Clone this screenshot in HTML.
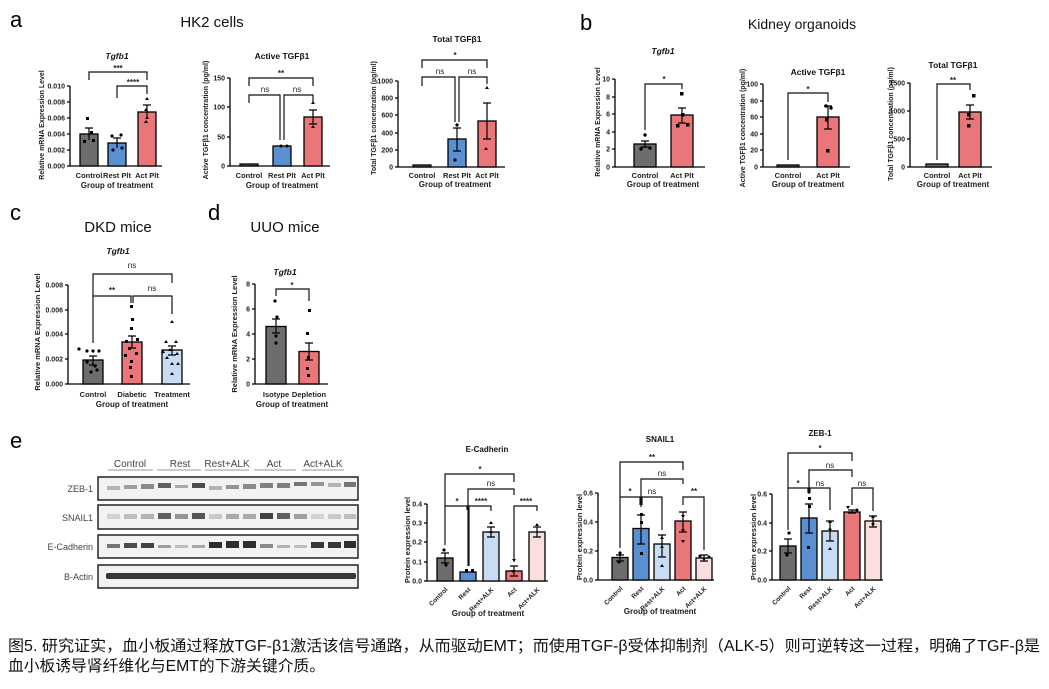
<!DOCTYPE html>
<html><head><meta charset="utf-8"><style>
body{margin:0;background:#fff;width:1049px;height:689px;overflow:hidden}
svg{display:block;font-family:"Liberation Sans",Arial,sans-serif}
.ax{stroke:#000;stroke-width:1.3;fill:none}
.br{stroke:#111;stroke-width:1.2;fill:none}
.t{font-size:7px;font-weight:bold;fill:#222}
.tk{font-size:7px;font-weight:bold;fill:#222;text-anchor:end}
.xl{font-size:7.5px;font-weight:bold;fill:#222;text-anchor:middle}
.ti{font-size:8.5px;font-weight:bold;fill:#111;text-anchor:middle}
.yl{font-size:7.5px;font-weight:bold;fill:#222;text-anchor:middle}
.pl{font-size:22px;fill:#000}
.pt{font-size:15px;fill:#111;text-anchor:middle}
.s{font-size:8px;fill:#222;text-anchor:middle;font-weight:bold}
.g{fill:#6d6d6d;stroke:#000;stroke-width:1.3}
.b{fill:#5a8fd2;stroke:#000;stroke-width:1.3}
.r{fill:#ea7679;stroke:#000;stroke-width:1.3}
.lb{fill:#c8dcf3;stroke:#000;stroke-width:1.3}
.lp{fill:#fbdede;stroke:#000;stroke-width:1.3}
.e{stroke:#000;stroke-width:1.2;fill:none}
.bl{font-size:9px;fill:#444;text-anchor:end}
.gl{font-size:10px;fill:#444;text-anchor:middle}
</style></head><body>
<svg width="1049" height="689" viewBox="0 0 1049 689">
<text class="pl" x="10" y="27">a</text>
<text class="pt" x="212" y="27">HK2 cells</text>
<text class="pl" x="580" y="30">b</text>
<text class="pt" x="802" y="29" style="font-size:14px">Kidney organoids</text>
<text class="pl" x="10" y="220">c</text>
<text class="pt" x="118" y="232">DKD mice</text>
<text class="pl" x="208" y="220">d</text>
<text class="pt" x="285" y="232">UUO mice</text>
<text class="pl" x="10" y="448">e</text>

<!-- a1 -->
<text class="ti" x="117" y="59" font-style="italic">Tgfb1</text>
<path class="ax" d="M70 86V166H162M67 86H70M67 102H70M67 118H70M67 134H70M67 150H70M67 166H70"/>
<text class="tk" x="65" y="88.5">0.010</text><text class="tk" x="65" y="104.5">0.008</text><text class="tk" x="65" y="120.5">0.006</text><text class="tk" x="65" y="136.5">0.004</text><text class="tk" x="65" y="152.5">0.002</text><text class="tk" x="65" y="168.5">0.000</text>
<text class="yl" transform="translate(44,125) rotate(-90)" style="font-size:7px">Relative mRNA Expression Level</text>
<rect class="g" x="80" y="134" width="18" height="32"/><rect class="b" x="108" y="143" width="18" height="23"/><rect class="r" x="138" y="112" width="18" height="54"/>
<path class="e" d="M89 128V140M85 128H93M117 138V148M113 138H121M147 105V119M143 105H151"/>
<g fill="#000"><rect x="86" y="117" width="3" height="3"/><rect x="83" y="140" width="3" height="3"/><rect x="92" y="139" width="3" height="3"/><rect x="90" y="131" width="3" height="3"/><circle cx="112" cy="136" r="1.6"/><circle cx="121" cy="135" r="1.6"/><circle cx="113" cy="150" r="1.6"/><circle cx="122" cy="148" r="1.6"/><path d="M147 97l2 3h-4z M146 108l2 3h-4z M147 116l2 3h-4z M146 120l2 3h-4z"/></g>
<text class="xl" x="89" y="178">Control</text><text class="xl" x="117" y="178">Rest Plt</text><text class="xl" x="147" y="178">Act Plt</text>
<text class="xl" x="117" y="188" style="font-size:8px">Group of treatment</text>
<path class="br" d="M89 80V72H147V80M117 98V86H147V94"/>
<text class="s" x="118" y="71">***</text><text class="s" x="133" y="85">****</text>

<!-- a2 -->
<text class="ti" x="282" y="59">Active TGFβ1</text>
<path class="ax" d="M230 78V166H330M227 78H230M227 107H230M227 137H230M227 166H230"/>
<text class="tk" x="225" y="80.5">150</text><text class="tk" x="225" y="109.5">100</text><text class="tk" x="225" y="139.5">50</text><text class="tk" x="225" y="168.5">0</text>
<text class="yl" transform="translate(208,120) rotate(-90)" style="font-size:7px">Active TGFβ1 concentration (pg/ml)</text>
<rect class="g" x="240" y="164" width="18" height="2"/><rect class="b" x="273" y="146" width="18" height="20"/><rect class="r" x="304" y="117" width="18" height="49"/>
<path class="e" d="M309 110H317M313 110V124M309 124H317"/>
<g fill="#000"><path d="M313 101l2 3h-4zM313 125l2 3h-4z"/><circle cx="281" cy="146" r="1.5"/><circle cx="287" cy="146" r="1.5"/></g>
<text class="xl" x="249" y="178">Control</text><text class="xl" x="282" y="178">Rest Plt</text><text class="xl" x="313" y="178">Act Plt</text>
<text class="xl" x="282" y="188" style="font-size:8px">Group of treatment</text>
<path class="br" d="M249 86V78H313V86M249 103V95H280V140M284 140V95H313V103"/>
<text class="s" x="281" y="76">**</text><text class="s" x="265" y="92" style="font-weight:normal">ns</text><text class="s" x="297" y="92" style="font-weight:normal">ns</text>

<!-- a3 -->
<text class="ti" x="457" y="42">Total TGFβ1</text>
<path class="ax" d="M398 81V167H505M395 81H398M395 98H398M395 115H398M395 133H398M395 150H398M395 167H398"/>
<text class="tk" x="393" y="83.5">1000</text><text class="tk" x="393" y="100.5">800</text><text class="tk" x="393" y="117.5">600</text><text class="tk" x="393" y="135.5">400</text><text class="tk" x="393" y="152.5">200</text><text class="tk" x="393" y="169.5">0</text>
<text class="yl" transform="translate(376,118) rotate(-90)" style="font-size:7px">Total TGFβ1 concentration (pg/ml)</text>
<rect class="g" x="413" y="165" width="18" height="2"/><rect class="b" x="448" y="139" width="18" height="28"/><rect class="r" x="478" y="121" width="18" height="46"/>
<path class="e" d="M453 128H461M457 128V151M453 151H461M483 103H491M487 103V139M483 139H491"/>
<g fill="#000"><circle cx="457" cy="125" r="1.6"/><circle cx="455" cy="160" r="1.6"/><path d="M487 86l2 3h-4zM486 147l2 3h-4z"/></g>
<text class="xl" x="422" y="178">Control</text><text class="xl" x="457" y="178">Rest Plt</text><text class="xl" x="487" y="178">Act Plt</text>
<text class="xl" x="455" y="187" style="font-size:8px">Group of treatment</text>
<path class="br" d="M422 68V60H487V68M422 86V77H455V122M459 122V77H487V84"/>
<text class="s" x="455" y="58">*</text><text class="s" x="440" y="74" style="font-weight:normal">ns</text><text class="s" x="472" y="74" style="font-weight:normal">ns</text>

<!-- b1 -->
<text class="ti" x="663" y="54" font-style="italic">Tgfb1</text>
<path class="ax" d="M615 79V167H705M612 79H615M612 97H615M612 114H615M612 132H615M612 149H615M612 167H615"/>
<text class="tk" x="610" y="81.5">10</text><text class="tk" x="610" y="99.5">8</text><text class="tk" x="610" y="116.5">6</text><text class="tk" x="610" y="134.5">4</text><text class="tk" x="610" y="151.5">2</text><text class="tk" x="610" y="169.5">0</text>
<text class="yl" transform="translate(600,122) rotate(-90)" style="font-size:7px">Relative mRNA Expression Level</text>
<rect class="g" x="634" y="144" width="22" height="23"/><rect class="r" x="671" y="115" width="22" height="52"/>
<path class="e" d="M641 141H649M645 141V147M641 147H649M678 108H686M682 108V123M678 123H686"/>
<g fill="#000"><circle cx="645" cy="135" r="1.7"/><circle cx="641" cy="149" r="1.7"/><circle cx="650" cy="148" r="1.7"/><rect x="680" y="92" width="3.5" height="3.5"/><rect x="681" y="113" width="3.5" height="3.5"/><rect x="676" y="124" width="3.5" height="3.5"/><rect x="686" y="123" width="3.5" height="3.5"/></g>
<text class="xl" x="645" y="178">Control</text><text class="xl" x="682" y="178">Act Plt</text>
<text class="xl" x="663" y="187" style="font-size:8px">Group of treatment</text>
<path class="br" d="M645 130V84H682V89"/><text class="s" x="664" y="82">*</text>

<!-- b2 -->
<text class="ti" x="818" y="75">Active TGFβ1</text>
<path class="ax" d="M763 84V167H850M760 84H763M760 101H763M760 117H763M760 134H763M760 150H763M760 167H763"/>
<text class="tk" x="758" y="86.5">100</text><text class="tk" x="758" y="103.5">80</text><text class="tk" x="758" y="119.5">60</text><text class="tk" x="758" y="136.5">40</text><text class="tk" x="758" y="152.5">20</text><text class="tk" x="758" y="169.5">0</text>
<text class="yl" transform="translate(745,128) rotate(-90)" style="font-size:7px">Active TGFβ1 concentration (pg/ml)</text>
<rect class="g" x="777" y="165" width="22" height="2"/><rect class="r" x="817" y="117" width="22" height="50"/>
<path class="e" d="M824 106H832M828 106V129M824 129H832"/>
<g fill="#000"><circle cx="826" cy="106" r="1.7"/><circle cx="831" cy="108" r="1.7"/><rect x="825" y="118" width="3.5" height="3.5"/><rect x="826" y="149" width="3.5" height="3.5"/></g>
<text class="xl" x="788" y="178">Control</text><text class="xl" x="828" y="178">Act Plt</text>
<text class="xl" x="808" y="187" style="font-size:8px">Group of treatment</text>
<path class="br" d="M788 160V93H828V102"/><text class="s" x="808" y="92">*</text>

<!-- b3 -->
<text class="ti" x="953" y="68">Total TGFβ1</text>
<path class="ax" d="M910 83V167H992M907 83H910M907 111H910M907 139H910M907 167H910"/>
<text class="tk" x="905" y="85.5">1500</text><text class="tk" x="905" y="113.5">1000</text><text class="tk" x="905" y="141.5">500</text><text class="tk" x="905" y="169.5">0</text>
<text class="yl" transform="translate(893,124) rotate(-90)" style="font-size:7px">Total TGFβ1 concentration (pg/ml)</text>
<rect class="g" x="926" y="164" width="22" height="3"/><rect class="r" x="959" y="112" width="22" height="55"/>
<path class="e" d="M966 105H974M970 105V119M966 119H974"/>
<g fill="#000"><rect x="972" y="94" width="3.5" height="3.5"/><rect x="967" y="113" width="3.5" height="3.5"/><rect x="967" y="124" width="3.5" height="3.5"/></g>
<text class="xl" x="937" y="178">Control</text><text class="xl" x="970" y="178">Act Plt</text>
<text class="xl" x="953" y="187" style="font-size:8px">Group of treatment</text>
<path class="br" d="M937 160V84H970V90"/><text class="s" x="953" y="83">**</text>

<!-- c -->
<text class="ti" x="118" y="254" font-style="italic">Tgfb1</text>
<path class="ax" d="M68 285V384H190M65 285H68M65 310H68M65 334H68M65 359H68M65 384H68"/>
<text class="tk" x="63" y="287.5">0.008</text><text class="tk" x="63" y="312.5">0.006</text><text class="tk" x="63" y="336.5">0.004</text><text class="tk" x="63" y="361.5">0.002</text><text class="tk" x="63" y="386.5">0.000</text>
<text class="yl" transform="translate(40,332) rotate(-90)">Relative mRNA Expression Level</text>
<rect class="g" x="83" y="360" width="20" height="24"/><rect class="r" x="122" y="342" width="20" height="42"/><rect class="lb" x="162" y="350" width="20" height="34"/>
<path class="e" d="M89 356H97M93 356V365M89 365H97M128 336H136M132 336V348M128 348H136M168 346H176M172 346V355M168 355H176"/>
<g fill="#000"><circle cx="79" cy="349" r="1.6"/><circle cx="87" cy="351" r="1.6"/><circle cx="93" cy="351" r="1.6"/><circle cx="99" cy="351" r="1.6"/><circle cx="87" cy="362" r="1.6"/><circle cx="95" cy="366" r="1.6"/><circle cx="91" cy="372" r="1.6"/><circle cx="97" cy="370" r="1.6"/>
<rect x="130" y="305" width="3" height="3"/><rect x="131" y="318" width="3" height="3"/><rect x="130" y="327" width="3" height="3"/><rect x="125" y="340" width="3" height="3"/><rect x="136" y="338" width="3" height="3"/><rect x="128" y="347" width="3" height="3"/><rect x="135" y="352" width="3" height="3"/><rect x="130" y="360" width="3" height="3"/><rect x="129" y="366" width="3" height="3"/><rect x="130" y="375" width="3" height="3"/><rect x="124" y="354" width="3" height="3"/>
<path d="M172 320l2 3h-4zM166 340l2 3h-4zM176 340l2 3h-4zM170 348l2 3h-4zM177 352l2 3h-4zM167 356l2 3h-4zM172 362l2 3h-4zM178 362l2 3h-4zM172 372l2 3h-4zM163 350l2 3h-4z"/></g>
<text class="xl" x="93" y="397">Control</text><text class="xl" x="132" y="397">Diabetic</text><text class="xl" x="172" y="397">Treatment</text>
<text class="xl" x="132" y="407" style="font-size:8px">Group of treatment</text>
<path class="br" d="M93 343V274H172V283M93 343V296H131V303M133 303V296H172V314"/>
<text class="s" x="132" y="268" style="font-weight:normal">ns</text><text class="s" x="112" y="293">**</text><text class="s" x="152" y="291" style="font-weight:normal">ns</text>

<!-- d -->
<text class="ti" x="285" y="275" font-style="italic">Tgfb1</text>
<path class="ax" d="M255 284V384H328M252 284H255M252 309H255M252 334H255M252 359H255M252 384H255"/>
<text class="tk" x="250" y="286.5">8</text><text class="tk" x="250" y="311.5">6</text><text class="tk" x="250" y="336.5">4</text><text class="tk" x="250" y="361.5">2</text><text class="tk" x="250" y="386.5">0</text>
<text class="yl" transform="translate(237,334) rotate(-90)">Relative mRNA Expression Level</text>
<rect class="g" x="266" y="326.5" width="20" height="57.5"/><rect class="r" x="299" y="351.5" width="20" height="32.5"/>
<path class="e" d="M272 319H280M276 319V333M272 333H280M305 343H313M309 343V360M305 360H313"/>
<g fill="#000"><circle cx="275" cy="301" r="1.6"/><circle cx="277" cy="317" r="1.6"/><circle cx="276" cy="336" r="1.6"/><circle cx="276" cy="343" r="1.6"/><rect x="308" y="309" width="3" height="3"/><rect x="306" y="332" width="3" height="3"/><rect x="307" y="356" width="3" height="3"/><rect x="306" y="367" width="3" height="3"/><rect x="307" y="374" width="3" height="3"/></g>
<text class="xl" x="276" y="397">Isotype</text><text class="xl" x="309" y="397">Depletion</text>
<text class="xl" x="292" y="407" style="font-size:8px">Group of treatment</text>
<path class="br" d="M276 296V289H309V301"/><text class="s" x="292" y="288">*</text>

<!-- e blot -->
<g>
<text class="gl" x="130" y="467">Control</text><text class="gl" x="180" y="467">Rest</text><text class="gl" x="227" y="467">Rest+ALK</text><text class="gl" x="274" y="467">Act</text><text class="gl" x="323" y="467">Act+ALK</text>
<path d="M108 470H153M157 470H201M205 470H249M254 470H296M302 470H344" stroke="#999" stroke-width="1"/>
<text class="bl" x="93" y="492">ZEB-1</text><text class="bl" x="93" y="521">SNAIL1</text><text class="bl" x="93" y="550">E-Cadherin</text><text class="bl" x="93" y="580">B-Actin</text>
<rect x="98" y="477" width="260" height="23" fill="#f2f2f2" stroke="#222" stroke-width="1.5"/>
<rect x="98" y="505" width="260" height="24" fill="#f2f2f2" stroke="#222" stroke-width="1.5"/>
<rect x="98" y="535" width="260" height="23" fill="#f2f2f2" stroke="#222" stroke-width="1.5"/>
<rect x="98" y="565" width="260" height="23" fill="#f2f2f2" stroke="#222" stroke-width="1.5"/>
<g fill="#222">
<rect x="107" y="486" width="13" height="4" opacity=".3"/><rect x="124" y="485" width="13" height="4" opacity=".4"/><rect x="141" y="484" width="13" height="5" opacity=".5"/><rect x="158" y="483" width="13" height="5" opacity=".7"/><rect x="175" y="485" width="13" height="3" opacity=".35"/><rect x="192" y="483" width="13" height="5" opacity=".8"/><rect x="209" y="486" width="13" height="4" opacity=".3"/><rect x="226" y="485" width="13" height="4" opacity=".45"/><rect x="243" y="484" width="13" height="5" opacity=".5"/><rect x="260" y="483" width="13" height="5" opacity=".55"/><rect x="277" y="483" width="13" height="5" opacity=".55"/><rect x="294" y="482" width="13" height="4" opacity=".6"/><rect x="311" y="482" width="13" height="4" opacity=".45"/><rect x="328" y="483" width="13" height="4" opacity=".3"/><rect x="344" y="482" width="12" height="5" opacity=".6"/>
<rect x="107" y="514" width="13" height="5" opacity=".15"/><rect x="124" y="514" width="13" height="5" opacity=".25"/><rect x="141" y="514" width="13" height="5" opacity=".3"/><rect x="158" y="513" width="13" height="6" opacity=".7"/><rect x="175" y="514" width="13" height="5" opacity=".45"/><rect x="192" y="513" width="13" height="6" opacity=".75"/><rect x="209" y="514" width="13" height="5" opacity=".2"/><rect x="226" y="514" width="13" height="5" opacity=".35"/><rect x="243" y="514" width="13" height="5" opacity=".35"/><rect x="260" y="513" width="13" height="6" opacity=".85"/><rect x="277" y="513" width="13" height="6" opacity=".7"/><rect x="294" y="514" width="13" height="5" opacity=".4"/><rect x="311" y="514" width="13" height="5" opacity=".15"/><rect x="328" y="514" width="13" height="5" opacity=".2"/><rect x="344" y="514" width="12" height="5" opacity=".25"/>
<rect x="107" y="544" width="13" height="4" opacity=".6"/><rect x="124" y="543" width="13" height="5" opacity=".8"/><rect x="141" y="543" width="13" height="5" opacity=".85"/><rect x="158" y="545" width="13" height="3" opacity=".4"/><rect x="175" y="545" width="13" height="3" opacity=".25"/><rect x="192" y="545" width="13" height="3" opacity=".35"/><rect x="209" y="542" width="13" height="6" opacity=".95"/><rect x="226" y="541" width="13" height="7" opacity=".95"/><rect x="243" y="541" width="13" height="7" opacity=".95"/><rect x="260" y="544" width="13" height="4" opacity=".5"/><rect x="277" y="545" width="13" height="3" opacity=".3"/><rect x="294" y="545" width="13" height="3" opacity=".25"/><rect x="311" y="542" width="13" height="6" opacity=".9"/><rect x="328" y="542" width="13" height="6" opacity=".9"/><rect x="344" y="541" width="12" height="7" opacity=".95"/>
<rect x="106" y="573" width="250" height="6" opacity=".9" rx="2"/>
</g>
</g>

<!-- E-Cadherin chart -->
<text class="ti" x="487" y="452" style="font-size:8px">E-Cadherin</text>
<path class="ax" d="M427 504V581H548M424 504H427M424 523H427M424 542H427M424 562H427M424 581H427"/>
<text class="tk" x="422" y="506.5">0.4</text><text class="tk" x="422" y="525.5">0.3</text><text class="tk" x="422" y="544.5">0.2</text><text class="tk" x="422" y="564.5">0.1</text><text class="tk" x="422" y="583.5">0.0</text>
<text class="yl" transform="translate(410,540) rotate(-90)">Protein expression level</text>
<rect class="g" x="437" y="558" width="16" height="23"/><rect class="b" x="460" y="572" width="16" height="9"/><rect class="lb" x="483" y="532" width="16" height="49"/><rect class="r" x="506" y="571" width="16" height="10"/><rect class="lp" x="529" y="532" width="16" height="49"/>
<path class="e" d="M441 553H449M445 553V563M441 563H449M487 527H495M491 527V537M487 537H495M510 566H518M514 566V576M510 576H518M533 527H541M537 527V537M533 537H541"/>
<g fill="#000"><circle cx="444" cy="550" r="1.6"/><circle cx="446" cy="565" r="1.6"/><rect x="465" y="569" width="3" height="3"/><rect x="471" y="569" width="3" height="3"/><path d="M491 521l2 3h-4zM491 530l2 3h-4zM514 562l-2-3h4zM513 573l-2-3h4zM537 523l2 3h-4z"/></g>
<path class="br" d="M445 545V474H514V482M468 566V489H514V495M445 545V506H467V510M469 566V506H491V511M514 562V506H537V511"/>
<text class="s" x="480" y="472">*</text><text class="s" x="491" y="486" style="font-weight:normal">ns</text><text class="s" x="457" y="504">*</text><text class="s" x="481" y="504">****</text><text class="s" x="526" y="504">****</text>
<g class="t" style="font-size:6.5px" text-anchor="end"><text transform="translate(448,590) rotate(-45)">Control</text><text transform="translate(471,590) rotate(-45)">Rest</text><text transform="translate(494,590) rotate(-45)">Rest+ALK</text><text transform="translate(517,590) rotate(-45)">Act</text><text transform="translate(540,590) rotate(-45)">Act+ALK</text></g>
<text class="xl" x="488" y="616" style="font-size:8px">Group of treatment</text>

<!-- SNAIL1 -->
<text class="ti" x="660" y="442" style="font-size:8px">SNAIL1</text>
<path class="ax" d="M598 493V580H714M595 493H598M595 522H598M595 551H598M595 580H598"/>
<text class="tk" x="593" y="495.5">0.6</text><text class="tk" x="593" y="524.5">0.4</text><text class="tk" x="593" y="553.5">0.2</text><text class="tk" x="593" y="582.5">0.0</text>
<text class="yl" transform="translate(582,537) rotate(-90)">Protein expression level</text>
<rect class="g" x="612" y="557.5" width="16" height="22.5"/><rect class="b" x="633" y="528.5" width="16" height="51.5"/><rect class="lb" x="654" y="544" width="16" height="36"/><rect class="r" x="675" y="521" width="16" height="59"/><rect class="lp" x="696" y="558" width="16" height="22"/>
<path class="e" d="M616 555H624M620 555V561M616 561H624M637 515H645M641 515V544M637 544H645M658 535H666M662 535V557M658 557H666M679 512H687M683 512V532M679 532H687M700 555H708M704 555V561M700 561H708"/>
<g fill="#000"><circle cx="620" cy="553" r="1.6"/><circle cx="619" cy="562" r="1.6"/><rect x="640" y="513" width="3" height="3"/><rect x="640" y="521" width="3" height="3"/><rect x="640" y="552" width="3" height="3"/><path d="M662 536l2 3h-4zM662 545l2 3h-4zM662 564l2 3h-4zM683 518l-2-3h4zM683 532l-2-3h4zM683 543l-2-3h4zM704 561l-2-3h4z"/><circle cx="700" cy="556" r="1.5"/><circle cx="709" cy="557" r="1.5"/></g>
<path class="br" d="M620 548V462H683V470M641 507V479H683V484M620 548V497H640V505M642 505V497H662V530M683 505V497H704V550"/>
<text class="s" x="652" y="460">**</text><text class="s" x="662" y="476" style="font-weight:normal">ns</text><text class="s" x="630" y="494">*</text><text class="s" x="652" y="494" style="font-weight:normal">ns</text><text class="s" x="694" y="494">**</text>
<g class="t" style="font-size:6.5px" text-anchor="end"><text transform="translate(623,589) rotate(-45)">Control</text><text transform="translate(644,589) rotate(-45)">Rest</text><text transform="translate(665,589) rotate(-45)">Rest+ALK</text><text transform="translate(686,589) rotate(-45)">Act</text><text transform="translate(707,589) rotate(-45)">Act+ALK</text></g>
<text class="xl" x="660" y="614" style="font-size:8px">Group of treatment</text>

<!-- ZEB-1 -->
<text class="ti" x="820" y="436" style="font-size:8px">ZEB-1</text>
<path class="ax" d="M772 494V580H883M769 494H772M769 523H772M769 551H772M769 580H772"/>
<text class="tk" x="767" y="496.5">0.6</text><text class="tk" x="767" y="525.5">0.4</text><text class="tk" x="767" y="553.5">0.2</text><text class="tk" x="767" y="582.5">0.0</text>
<text class="yl" transform="translate(756,537) rotate(-90)">Protein expression level</text>
<rect class="g" x="780" y="546" width="16" height="34"/><rect class="b" x="801" y="518" width="16" height="62"/><rect class="lb" x="822" y="531" width="16" height="49"/><rect class="r" x="844" y="512" width="16" height="68"/><rect class="lp" x="865" y="521" width="16" height="59"/>
<path class="e" d="M784 539H792M788 539V553M784 553H792M805 504H813M809 504V533M805 533H813M826 521H834M830 521V541M826 541H834M848 510H856M852 510V513M848 513H856M869 516H877M873 516V527M869 527H877"/>
<g fill="#000"><circle cx="789" cy="533" r="1.6"/><circle cx="787" cy="555" r="1.6"/><rect x="808" y="497" width="3" height="3"/><rect x="808" y="505" width="3" height="3"/><rect x="807" y="546" width="3" height="3"/><path d="M830 520l2 3h-4zM830 527l2 3h-4zM830 547l2 3h-4zM848 509l-2-3h4zM873 515l2 3h-4z"/><circle cx="857" cy="510" r="1.5"/><circle cx="873" cy="524" r="1.5"/></g>
<path class="br" d="M788 530V453H852V461M809 494V470H852V477M788 530V488H808V493M810 493V488H830V510M852 505V488H873V511"/>
<text class="s" x="820" y="451">*</text><text class="s" x="830" y="468" style="font-weight:normal">ns</text><text class="s" x="798" y="486">*</text><text class="s" x="820" y="486" style="font-weight:normal">ns</text><text class="s" x="862" y="486" style="font-weight:normal">ns</text>
<g class="t" style="font-size:6.5px" text-anchor="end"><text transform="translate(791,589) rotate(-45)">Control</text><text transform="translate(812,589) rotate(-45)">Rest</text><text transform="translate(833,589) rotate(-45)">Rest+ALK</text><text transform="translate(855,589) rotate(-45)">Act</text><text transform="translate(876,589) rotate(-45)">Act+ALK</text></g>

<!-- caption -->
<text x="8" y="651" font-size="15.5" fill="#111" font-family="Liberation Sans, Noto Sans CJK SC, sans-serif" textLength="1032" lengthAdjust="spacingAndGlyphs">图5. 研究证实，血小板通过释放TGF-β1激活该信号通路，从而驱动EMT；而使用TGF-β受体抑制剂（ALK-5）则可逆转这一过程，明确了TGF-β是</text>
<text x="8" y="671" font-size="15.5" fill="#111" font-family="Liberation Sans, Noto Sans CJK SC, sans-serif" textLength="317" lengthAdjust="spacingAndGlyphs">血小板诱导肾纤维化与EMT的下游关键介质。</text>
</svg>
</body></html>
